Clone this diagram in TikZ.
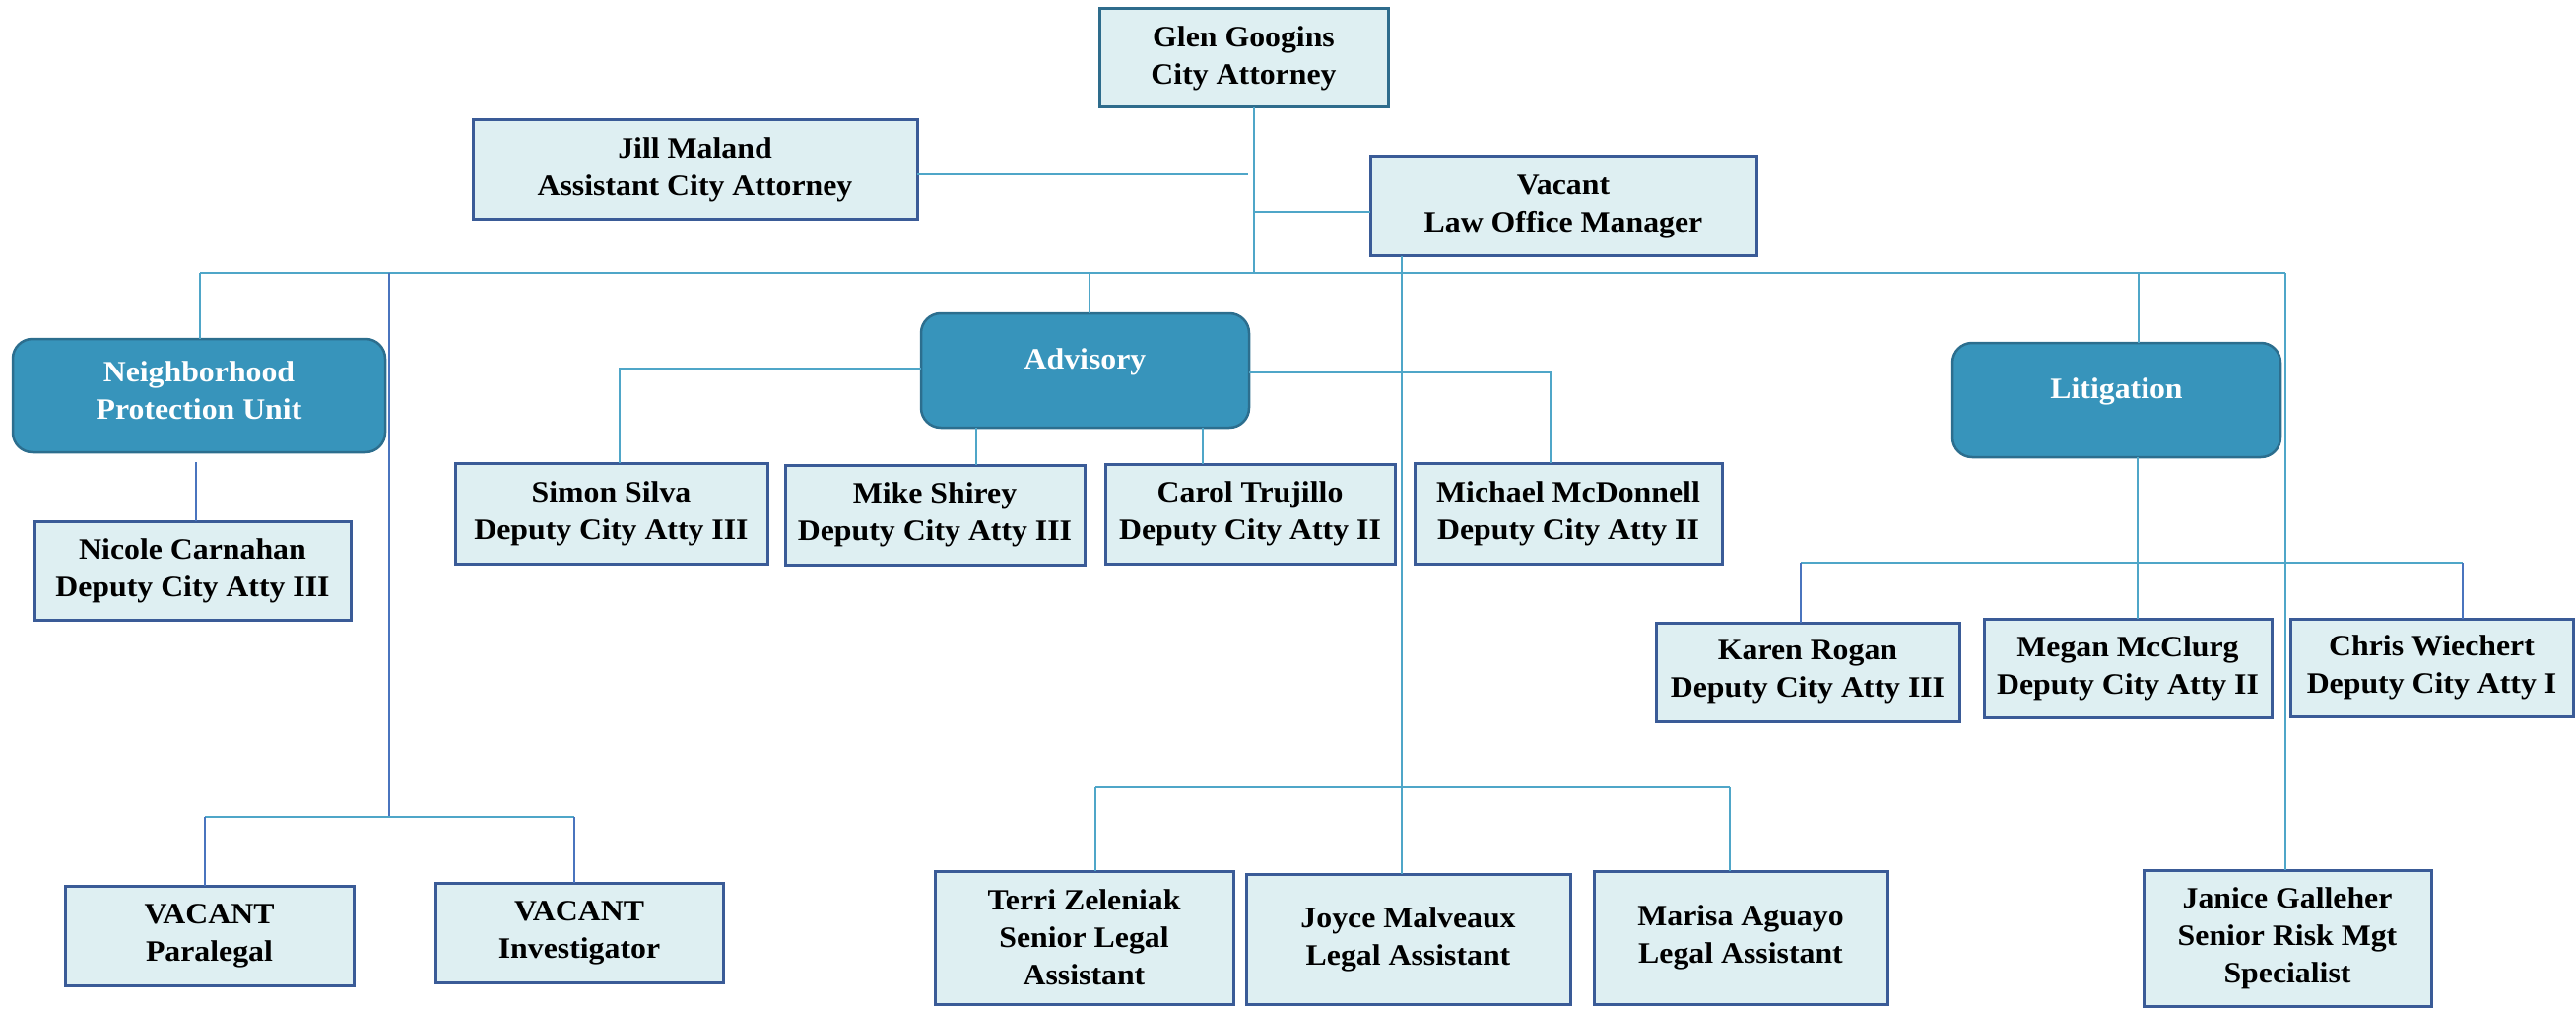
\documentclass[tikz,border=0pt]{standalone}
\usepackage{fontspec}
\setmainfont{Liberation Serif}[FakeStretch=1.06]
\begin{document}
\begin{tikzpicture}[x=1pt,y=-1pt,
  every node/.style={font=\fontsize{30}{38}\selectfont\bfseries, align=center, inner sep=0pt, outer sep=0pt},
  pbox/.style={draw=boxline, fill=boxfill, line width=3pt, rectangle},
  gbox/.style={draw=glenline, fill=boxfill, line width=3pt, rectangle},
  unit/.style={draw=unitline, fill=unitfill, line width=2.5pt, rounded corners=20pt, text=white},
  conn/.style={draw=connc, line width=2pt},
  connb/.style={draw=connblue, line width=2pt}]
\definecolor{boxline}{HTML}{3A5B97}
\definecolor{glenline}{HTML}{2E6C8C}
\definecolor{boxfill}{HTML}{DEEFF2}
\definecolor{unitline}{HTML}{2C6E8E}
\definecolor{unitfill}{HTML}{3794BB}
\definecolor{connc}{HTML}{4FA6C8}
\definecolor{connblue}{HTML}{4A74BE}
\useasboundingbox (0,0) rectangle (2615,1024);

% top
\node[gbox, minimum width=293, minimum height=100] (glen) at (1262.5,59) {Glen Googins\\City Attorney};
\node[pbox, minimum width=451, minimum height=101] (jill) at (705.5,172.5) {Jill Maland\\Assistant City Attorney};
\node[pbox, minimum width=392, minimum height=101] (vac) at (1587,209.5) {Vacant\\Law Office Manager};

% units
\node[unit, minimum width=378, minimum height=115, text depth=10pt] (npu) at (202,401.5) {Neighborhood\\Protection Unit};
\node[unit, minimum width=333, minimum height=116, text depth=24pt] (adv) at (1101.5,376) {Advisory};
\node[unit, minimum width=333, minimum height=116, text depth=24pt] (lit) at (2148.5,406) {Litigation};

% staff
\node[pbox, minimum width=321, minimum height=100] (nicole) at (195.5,579) {Nicole Carnahan\\Deputy City Atty III};
\node[pbox, minimum width=317, minimum height=102] (simon) at (620.5,521) {Simon Silva\\Deputy City Atty III};
\node[pbox, minimum width=304, minimum height=101] (mike) at (949,522.5) {Mike Shirey\\Deputy City Atty III};
\node[pbox, minimum width=294, minimum height=101] (carol) at (1269,521.5) {Carol Trujillo\\Deputy City Atty II};
\node[pbox, minimum width=312, minimum height=102] (michael) at (1592,521) {Michael McDonnell\\Deputy City Atty II};
\node[pbox, minimum width=308, minimum height=100] (karen) at (1835,682) {Karen Rogan\\Deputy City Atty III};
\node[pbox, minimum width=292, minimum height=100] (megan) at (2160,678) {Megan McClurg\\Deputy City Atty II};
\node[pbox, minimum width=287, minimum height=99] (chris) at (2468.5,677.5) {Chris Wiechert\\Deputy City Atty I};
\node[pbox, minimum width=293, minimum height=101] (para) at (212.5,949.5) {VACANT\\Paralegal};
\node[pbox, minimum width=292, minimum height=101] (inv) at (588,946.5) {VACANT\\Investigator};
\node[pbox, minimum width=303, minimum height=135] (terri) at (1100.5,951.5) {Terri Zeleniak\\Senior Legal\\Assistant};
\node[pbox, minimum width=329, minimum height=132] (joyce) at (1429.5,953) {Joyce Malveaux\\Legal Assistant};
\node[pbox, minimum width=298, minimum height=135] (marisa) at (1767,951.5) {Marisa Aguayo\\Legal Assistant};
\node[pbox, minimum width=292, minimum height=138] (janice) at (2322,952) {Janice Galleher\\Senior Risk Mgt\\Specialist};

% junction coordinates
\coordinate (spine) at (1273,277);
\coordinate (jillend) at (1267,177);
\coordinate (vj) at (1273,215);
\coordinate (busL) at (203,277);
\coordinate (busR) at (2320,277);
\coordinate (busS) at (395,277);
\coordinate (busA) at (1106,277);
\coordinate (busLit) at (2171,277);
\coordinate (sbus) at (395,829);
\coordinate (sbL) at (208,829);
\coordinate (sbR) at (583,829);
\coordinate (npuc) at (199,469);
\coordinate (advL) at (629,374);
\coordinate (advR) at (1574,378);
\coordinate (mikex) at (991,0);
\coordinate (carolx) at (1221,0);
\coordinate (vx) at (1423,0);
\coordinate (lbus) at (2170,571);
\coordinate (lbL) at (1828,571);
\coordinate (lbR) at (2500,571);
\coordinate (bbus) at (1423,799);
\coordinate (bbL) at (1112,799);
\coordinate (bbR) at (1756,799);

% connectors
\draw[conn] (glen.south -| spine) -- (spine);
\draw[conn] (jill.east |- jillend) -- (jillend);
\draw[conn] (vj) -- (vac.west |- vj);
\draw[conn] (busL) -- (busR);
\draw[conn] (busL) -- (npu.north -| busL);
\draw[connb] (busS) -- (sbus);
\draw[conn] (sbL) -- (sbR);
\draw[connb] (sbL) -- (para.north -| sbL);
\draw[connb] (sbR) -- (inv.north -| sbR);
\draw[connb] (npuc) -- (nicole.north -| npuc);
\draw[conn] (busA) -- (adv.north -| busA);
\draw[conn] (adv.west |- advL) -- (advL) -- (simon.north -| advL);
\draw[conn] (adv.east |- advR) -- (advR) -- (michael.north -| advR);
\draw[conn] (adv.south -| mikex) -- (mike.north -| mikex);
\draw[conn] (adv.south -| carolx) -- (carol.north -| carolx);
\draw[conn] (vac.south -| vx) -- (joyce.north -| vx);
\draw[conn] (bbL) -- (bbR);
\draw[conn] (bbL) -- (terri.north -| bbL);
\draw[conn] (bbR) -- (marisa.north -| bbR);
\draw[conn] (busLit) -- (lit.north -| busLit);
\draw[conn] (lit.south -| lbus) -- (megan.north -| lbus);
\draw[conn] (lbL) -- (lbR);
\draw[connb] (lbL) -- (karen.north -| lbL);
\draw[connb] (lbR) -- (chris.north -| lbR);
\draw[conn] (busR) -- (janice.north -| busR);
\end{tikzpicture}
\end{document}
